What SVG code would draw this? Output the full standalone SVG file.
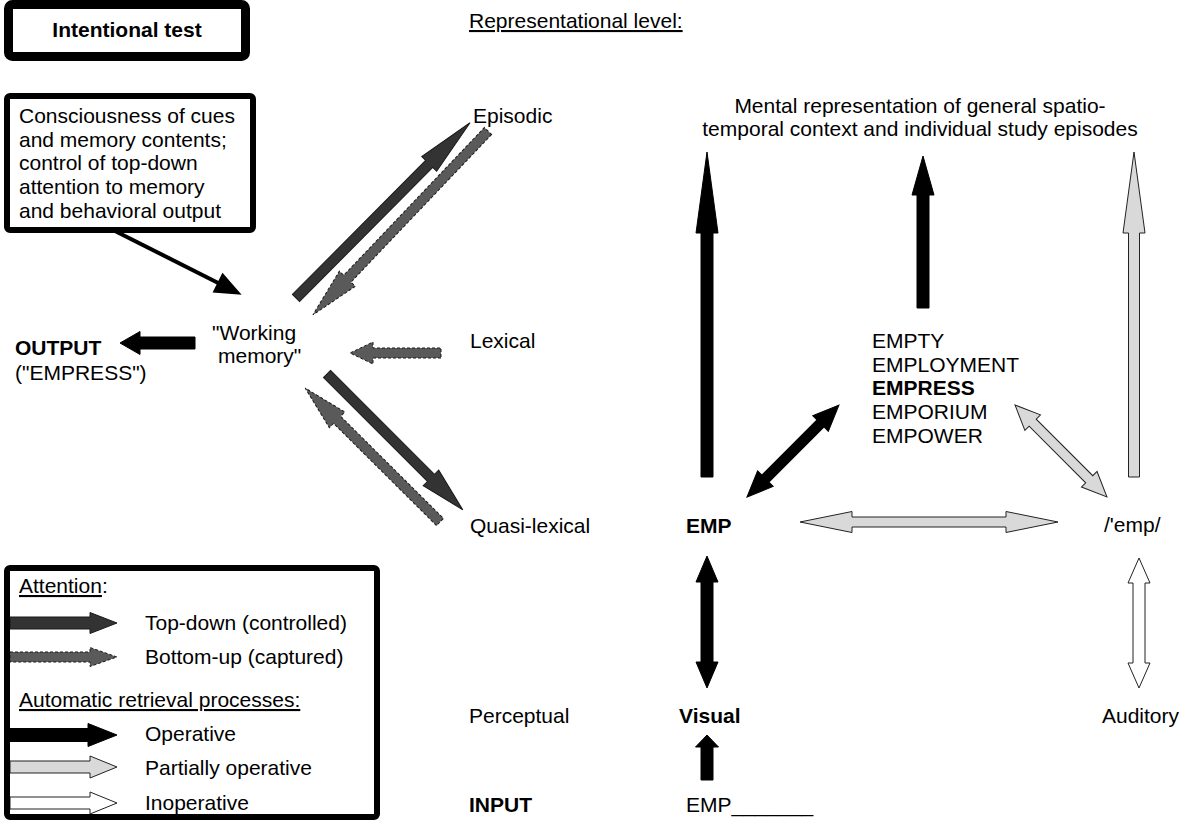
<svg xmlns="http://www.w3.org/2000/svg" width="1183" height="823" viewBox="0 0 1183 823">
  <style>
    text { font-family: "Liberation Sans", Arial, Helvetica, sans-serif; font-size: 21px; fill: #000; }
    .b { font-weight: bold; }
    .u { text-decoration: underline; }
    .mid { text-anchor: middle; }
    .box { fill: #fff; stroke: #000; }
    .op { fill: #000; stroke: #000; stroke-width: 1; }
    .part { fill: #d9d9d9; stroke: #222; stroke-width: 1; }
    .inop { fill: #fff; stroke: #222; stroke-width: 1; }
    .td { fill: #333; stroke: #1a1a1a; stroke-width: 1; }
    .bu { fill: #5a5a5a; stroke: #1a1a1a; stroke-width: 1; stroke-dasharray: 3 2; }
  </style>

  <rect width="1183" height="823" fill="#fff"/>

  <!-- boxes -->
  <g id="intentional-test">
    <rect class="box" x="8.5" y="4.5" width="237" height="52" rx="4" stroke-width="9"/>
    <text class="b mid" x="127" y="37">Intentional test</text>
  </g>

  <g id="consciousness">
    <rect class="box" x="7" y="96" width="246" height="134" rx="3" stroke-width="6"/>
    <text x="19" y="123">Consciousness of cues</text>
    <text x="19" y="147">and memory contents;</text>
    <text x="19" y="170">control of top-down</text>
    <text x="19" y="194">attention to memory</text>
    <text x="19" y="218">and behavioral output</text>
  </g>

  <g id="level-heading">
    <text class="u" x="469" y="28">Representational level:</text>
  </g>

  <!-- level labels -->
  <g id="episodic"><text x="473" y="123">Episodic</text></g>
  <g id="lexical"><text x="470" y="348">Lexical</text></g>
  <g id="quasi-lexical"><text x="470" y="533">Quasi-lexical</text></g>
  <g id="perceptual"><text x="469" y="723">Perceptual</text></g>
  <g id="input"><text class="b" x="469" y="812">INPUT</text></g>

  <g id="working-memory">
    <text x="212" y="340">"Working</text>
    <text x="218" y="363">memory"</text>
  </g>

  <g id="output">
    <text class="b" x="15" y="355">OUTPUT</text>
    <text x="15" y="380">("EMPRESS")</text>
  </g>

  <g id="context">
    <text class="mid" x="920" y="113">Mental representation of general spatio-</text>
    <text class="mid" x="920" y="136">temporal context and individual study episodes</text>
  </g>

  <g id="candidates">
    <text x="872" y="348">EMPTY</text>
    <text x="872" y="372">EMPLOYMENT</text>
    <text class="b" x="872" y="395">EMPRESS</text>
    <text x="872" y="419">EMPORIUM</text>
    <text x="872" y="443">EMPOWER</text>
  </g>

  <g id="emp"><text class="b" x="686" y="533">EMP</text></g>
  <g id="phon"><text x="1104" y="532">/'emp/</text></g>
  <g id="visual"><text class="b" x="679" y="723">Visual</text></g>
  <g id="auditory"><text x="1102" y="723">Auditory</text></g>
  <g id="stem"><text x="686" y="812">EMP_______</text></g>

  <!-- connectors -->
  <g id="connectors">
    <!-- control box to working memory -->
    <g transform="translate(113,230) rotate(26.7)">
      <line x1="0" y1="0" x2="120" y2="0" stroke="#000" stroke-width="4"/>
      <path d="M117,-11 L144,0 L117,11 Z" fill="#000"/>
    </g>
    <!-- output -->
    <path class="op" transform="translate(195,343) rotate(180)" d="M0,-6 H55 V-11.5 L75,0 L55,11.5 V6 H0 Z"/>

    <!-- attention arrows -->
    <path class="td" transform="translate(296,298) rotate(-45.2)" d="M0,-5 H189 V-10.5 L247,0 L189,10.5 V5 H0 Z"/>
    <path class="bu" transform="translate(488,131) rotate(133.6)" d="M0,-5 H204 V-11 L254,0 L204,11 V5 H0 Z"/>
    <path class="bu" transform="translate(441,353) rotate(180)" d="M0,-5 H68 V-11 L91,0 L68,11 V5 H0 Z"/>
    <path class="td" transform="translate(327,374) rotate(45)" d="M0,-5 H147 V-11 L192,0 L147,11 V5 H0 Z"/>
    <path class="bu" transform="translate(440,522) rotate(-135.2)" d="M0,-5 H145 V-11 L190,0 L145,11 V5 H0 Z"/>

    <!-- retrieval arrows -->
    <path class="op" transform="translate(707,477) rotate(-90)" d="M0,-6 H244 V-11 L325,0 L244,11 V6 H0 Z"/>
    <path class="op" transform="translate(923,308) rotate(-90)" d="M0,-6 H113 V-11 L152,0 L113,11 V6 H0 Z"/>
    <path class="op" transform="translate(747,497) rotate(-45)" d="M0,0 L26,-11 V-5 H104 V-11 L130,0 L104,11 V5 H26 V11 Z"/>
    <path class="part" transform="translate(800,522)" d="M0,0 L52,-10.5 V-5 H206 V-10.5 L258,0 L206,10.5 V5 H52 V10.5 Z"/>
    <path class="part" transform="translate(1015,405) rotate(45)" d="M0,0 L25,-11 V-5 H105 V-11 L130,0 L105,11 V5 H25 V11 Z"/>
    <path class="part" transform="translate(1134,477) rotate(-90)" d="M0,-5.5 H244 V-11 L325,0 L244,11 V5.5 H0 Z"/>
    <path class="inop" transform="translate(1139,558) rotate(90)" d="M0,0 L25,-11 V-6 H105 V-11 L130,0 L105,11 V6 H25 V11 Z"/>
    <path class="op" transform="translate(707,556) rotate(90)" d="M0,0 L26,-11 V-6 H106 V-11 L132,0 L106,11 V6 H26 V11 Z"/>
    <path class="op" transform="translate(707,780) rotate(-90)" d="M0,-6 H33 V-11.5 L45,0 L33,11.5 V6 H0 Z"/>
  </g>

  <!-- key -->
  <g id="legend">
    <path class="td" transform="translate(10,623)" d="M0,-6 H80 V-10.5 L107,0 L80,10.5 V6 H0 Z"/>
    <path class="bu" transform="translate(10,657)" d="M0,-5 H80 V-9.5 L107,0 L80,9.5 V5 H0 Z"/>
    <path class="op" transform="translate(10,735)" d="M0,-6.5 H78 V-11.5 L107,0 L78,11.5 V6.5 H0 Z"/>
    <path class="part" transform="translate(10,767)" d="M0,-6 H80 V-11 L107,0 L80,11 V6 H0 Z"/>
    <path class="inop" transform="translate(10,803)" d="M0,-6 H80 V-11 L107,0 L80,11 V6 H0 Z"/>
    <rect x="7" y="568" width="370" height="249" rx="3" fill="none" stroke="#000" stroke-width="6"/>
    <text x="19" y="593"><tspan class="u">Attention</tspan>:</text>
    <text x="145" y="630">Top-down (controlled)</text>
    <text x="145" y="664">Bottom-up (captured)</text>
    <text class="u" x="19" y="707">Automatic retrieval processes:</text>
    <text x="145" y="741">Operative</text>
    <text x="145" y="775">Partially operative</text>
    <text x="145" y="810">Inoperative</text>
  </g>
</svg>
